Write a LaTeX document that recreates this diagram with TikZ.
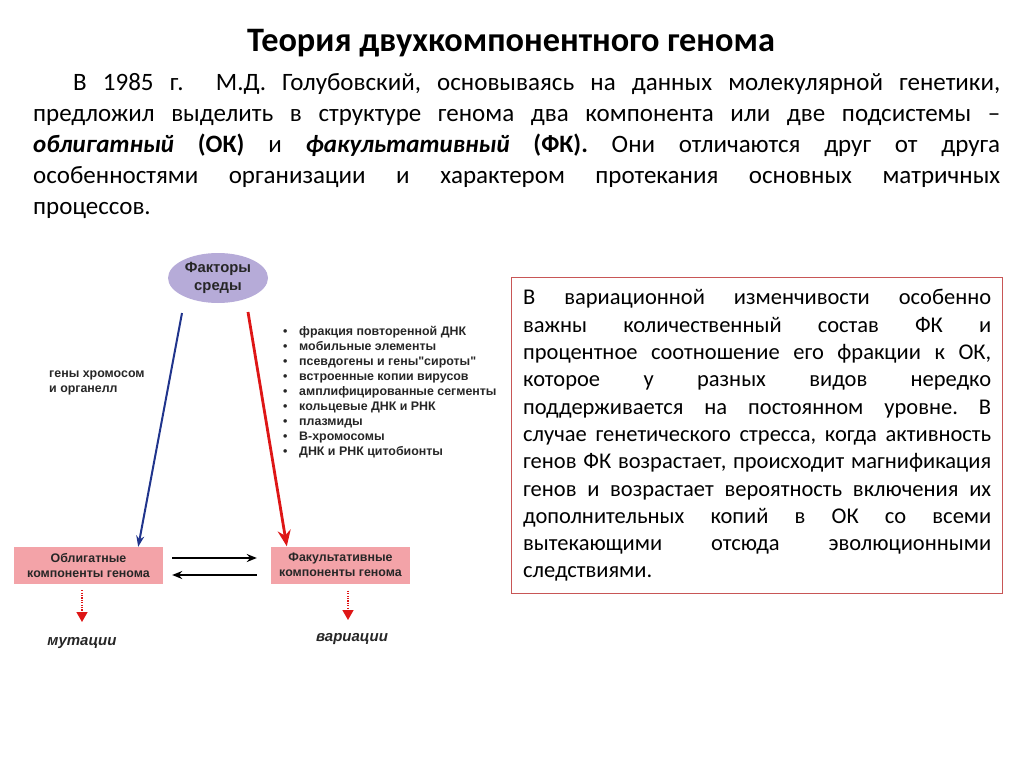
\documentclass[tikz,border=0pt]{standalone}
\usepackage{fontspec}
\setmainfont{Carlito}
\newfontfamily\arialfont{Liberation Sans}
\usetikzlibrary{arrows.meta,positioning,shapes.geometric,calc}
\definecolor{lavender}{RGB}{182,171,216}
\definecolor{pinkbox}{RGB}{243,163,168}
\definecolor{navyline}{RGB}{32,52,140}
\definecolor{redline}{RGB}{222,22,22}
\definecolor{noteframe}{RGB}{200,86,86}
\definecolor{labelgray}{RGB}{38,38,38}
\frenchspacing

\begin{document}
\begin{tikzpicture}[x=1pt, y=-1pt, every node/.style={inner sep=0pt},
  lbl/.style={font=\arialfont\bfseries\fontsize{12.4}{14.5}\selectfont, text=labelgray},
  compbox/.style={lbl, fill=pinkbox, minimum height=37pt, align=center},
  result/.style={font=\arialfont\bfseries\itshape\fontsize{15}{17}\selectfont, text=labelgray},
  pairarr/.style={-{Stealth[length=10pt,width=8pt]}, line width=1.6pt, black},
  dotarr/.style={-{Triangle[length=10pt,width=11pt]}, redline, line width=1.4pt,
    dash pattern=on 1.2pt off 1.2pt}]
  \useasboundingbox (0,0) rectangle (1024,767);
  % title and introduction
  \node[anchor=base] (title) at (511,52) {\fontsize{34.3}{40}\selectfont\bfseries Теория двухкомпонентного генома};
  \node[anchor=base west, text width=967pt, align=justify,
    font=\fontsize{25}{31}\selectfont] (intro) at (33,91)
   {\hspace*{40pt}В 1985 г.\ \ М.Д. Голубовский, основываясь на данных молекулярной генетики,\linebreak
    предложил выделить в структуре генома два компонента или две подсистемы –\linebreak
    \textbf{\textit{облигатный}} \textbf{(ОК)} и \textbf{\textit{факультативный}} \textbf{(ФК).} Они отличаются друг от друга\linebreak
    особенностями организации и характером протекания основных матричных\linebreak
    процессов.};
  % note on the right
  \node[anchor=north west, draw=noteframe, line width=1.3pt, text width=468pt,
    inner xsep=11.5pt, minimum height=316pt, align=justify,
    font=\fontsize{22.5}{27.3}\selectfont] (note) at (511,277)
   {В вариационной изменчивости особенно\linebreak
    важны количественный состав ФК и\linebreak
    процентное соотношение его фракции к ОК,\linebreak
    которое у разных видов нередко\linebreak
    поддерживается на постоянном уровне. В\linebreak
    случае генетического стресса, когда активность\linebreak
    генов ФК возрастает, происходит магнификация\linebreak
    генов и возрастает вероятность включения их\linebreak
    дополнительных копий в ОК со всеми\linebreak
    вытекающими отсюда эволюционными\linebreak
    следствиями.};
  % scheme
  \node[ellipse, fill=lavender, minimum width=100pt, minimum height=50pt, lbl,
    font=\arialfont\bfseries\fontsize{14.8}{17.5}\selectfont, align=center] (env) at (218,278) {Факторы\\среды};
  \node[lbl, anchor=base west, align=left] (chrom) at (49,392) {гены хромосом\\и органелл};
  \node[lbl, anchor=base west, align=left, font=\arialfont\bfseries\fontsize{12.4}{15}\selectfont] (extra) at (283,455)
   {\makebox[16pt][l]{•}фракция повторенной ДНК\\
    \makebox[16pt][l]{•}мобильные элементы\\
    \makebox[16pt][l]{•}псевдогены и гены"сироты"\\
    \makebox[16pt][l]{•}встроенные копии вирусов\\
    \makebox[16pt][l]{•}амплифицированные сегменты\\
    \makebox[16pt][l]{•}кольцевые ДНК и РНК\\
    \makebox[16pt][l]{•}плазмиды\\
    \makebox[16pt][l]{•}В-хромосомы\\
    \makebox[16pt][l]{•}ДНК и РНК цитобионты};
  \node[compbox, minimum width=149pt] (oblig) at (88.5,565.5) {Облигатные\\компоненты генома};
  \node[compbox, minimum width=139pt] (facult) at (340.5,565) {Факультативные\\компоненты генома};
  \node[result, anchor=base] (mut) at (82,645) {мутации};
  \node[result, anchor=base] (var) at (352,641) {вариации};
  \coordinate (blueS) at (182,313);
  \coordinate (redS) at (248,312);
  \coordinate (mutTip) at (82,622);
  \coordinate (varTip) at (348,620);
  % arrows
  \draw[-{Stealth[length=11pt,width=8pt]}, navyline, line width=2pt] (blueS) -- ([xshift=-25pt]oblig.north east);
  \draw[-{Stealth[length=16pt,width=13pt]}, redline, line width=2.8pt] (redS) -- ([xshift=16pt]facult.north west);
  \draw[pairarr] ([xshift=9pt,yshift=7.5pt]oblig.east) -- ([xshift=-14pt,yshift=7pt]facult.west);
  \draw[pairarr] ([xshift=-14pt,yshift=-10pt]facult.west) -- ([xshift=9pt,yshift=-9.5pt]oblig.east);
  \draw[dotarr, shorten <=6pt] (oblig.south -| mutTip) -- (mutTip);
  \draw[dotarr, shorten <=7pt] (facult.south -| varTip) -- (varTip);
\end{tikzpicture}
\end{document}
